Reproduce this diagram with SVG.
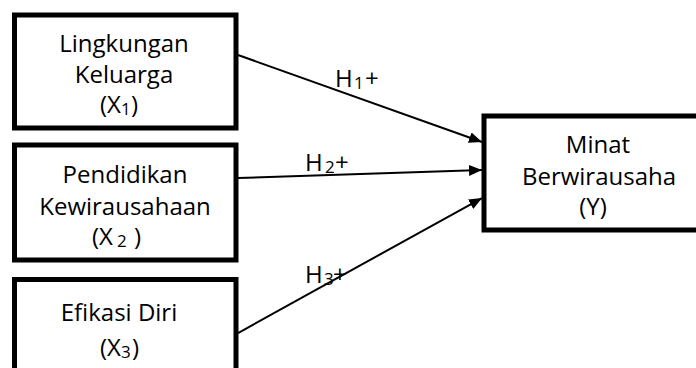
<svg xmlns="http://www.w3.org/2000/svg" width="696" height="368" viewBox="0 0 696 368">
<style>
.box{fill:#fff;stroke:#000;stroke-width:5}
.t{font-family:"Open Sans","Noto Sans","Liberation Sans",sans-serif;font-size:24px;fill:#000}
.c{text-anchor:middle}
.sub{font-size:17px}
.ln{stroke:#000;stroke-width:2;fill:none}
</style>
<defs>
<marker id="ah" markerUnits="userSpaceOnUse" markerWidth="14" markerHeight="12" viewBox="0 0 14 12" refX="13" refY="6" orient="auto">
<path d="M0,0.5 L13,6 L0,11.5 Z" fill="#000"/>
</marker>
</defs>
<rect width="696" height="368" fill="#fff"/>
<g id="connectors">
<line class="ln" x1="238" y1="55" x2="482" y2="142" marker-end="url(#ah)"/>
<line class="ln" x1="238" y1="178" x2="482" y2="170" marker-end="url(#ah)"/>
<line class="ln" x1="238" y1="333" x2="482" y2="198" marker-end="url(#ah)"/>
<text class="t" x="335" y="87">H<tspan class="sub" x="354" y="89">1</tspan><tspan x="365" y="87">+</tspan></text>
<text class="t" x="305" y="171">H<tspan class="sub" x="325" y="173">2</tspan><tspan x="335" y="171">+</tspan></text>
<text class="t" x="305" y="283">H<tspan class="sub" x="324" y="285">3</tspan><tspan x="333" y="283">+</tspan></text>
</g>
<g id="x1">
<rect class="box" x="14.5" y="15" width="221.5" height="113"/>
<text class="t c" x="124" y="52">Lingkungan</text>
<text class="t c" x="124" y="83">Keluarga</text>
<text class="t" x="100" y="113">(X<tspan class="sub" x="121" y="115">1</tspan><tspan x="131" y="113">)</tspan></text>
</g>
<g id="x2">
<rect class="box" x="14.5" y="145" width="221.5" height="115"/>
<text class="t c" x="125" y="183">Pendidikan</text>
<text class="t c" x="125" y="215">Kewirausahaan</text>
<text class="t" x="92" y="245">(X<tspan class="sub" x="117" y="247">2</tspan><tspan x="134" y="245">)</tspan></text>
</g>
<g id="x3">
<rect class="box" x="14.5" y="279.5" width="221.5" height="100"/>
<text class="t c" x="119" y="321">Efikasi Diri</text>
<text class="t" x="100" y="356">(X<tspan class="sub" x="121" y="358">3</tspan><tspan x="132" y="356">)</tspan></text>
</g>
<g id="y">
<rect class="box" x="484" y="116" width="240" height="114"/>
<text class="t c" x="598" y="153">Minat</text>
<text class="t c" x="599" y="185">Berwirausaha</text>
<text class="t c" x="593" y="215">(Y)</text>
</g>
</svg>
